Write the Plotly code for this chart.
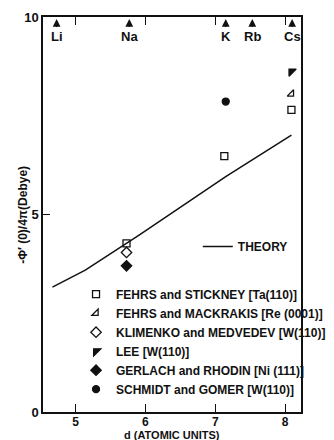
import plotly.graph_objects as go

# Theory curve
theory_d = [4.67, 5.14, 5.91, 6.29, 7.15, 8.09]
theory_v = [3.16, 3.59, 4.48, 4.94, 5.96, 7.01]

# Experimental points
stickney_d = [5.73, 7.13, 8.09]
stickney_v = [4.27, 6.48, 7.65]
mackrakis_d = [8.09]
mackrakis_v = [8.05]
klimenko_d = [5.73]
klimenko_v = [4.04]
lee_d = [8.09]
lee_v = [8.62]
gerlach_d = [5.73]
gerlach_v = [3.70]
schmidt_d = [7.15]
schmidt_v = [7.86]

# Alkali positions on top axis
elements = ["Li", "Na", "K", "Rb", "Cs"]
element_d = [4.73, 5.77, 7.15, 7.53, 8.10]

x_ticks = [5, 6, 7, 8]
y_ticks = [0, 5, 10]

FONT = "Liberation Sans"
BLACK = "#111111"

fig = go.Figure()

fig.add_trace(go.Scatter(x=theory_d, y=theory_v, mode="lines", name="THEORY",
                         line=dict(color=BLACK, width=1.5), legend="legend2"))

series = [
    ("FEHRS and STICKNEY [Ta(110)]", stickney_d, stickney_v, "square-open", 7),
    ("FEHRS and MACKRAKIS [Re (0001)]", mackrakis_d, mackrakis_v, "triangle-se-open", 7),
    ("KLIMENKO and MEDVEDEV [W(110)]", klimenko_d, klimenko_v, "diamond-open", 8),
    ("LEE [W(110)]", lee_d, lee_v, "triangle-nw", 8),
    ("GERLACH and RHODIN [Ni (111)]", gerlach_d, gerlach_v, "diamond", 8),
    ("SCHMIDT and GOMER [W(110)]", schmidt_d, schmidt_v, "circle", 7),
]
for name, xs, ys, sym, sz in series:
    fig.add_trace(go.Scatter(x=xs, y=ys, mode="markers", name=name,
                             marker=dict(symbol=sym, size=sz, color=BLACK,
                                         line=dict(color=BLACK, width=1.3)),
                             legend="legend"))

for el, d in zip(elements, element_d):
    fig.add_annotation(x=d, y=10, xref="x", yref="y", text="<b>%s</b>" % el,
                       showarrow=True, arrowhead=2, arrowsize=1.2, arrowwidth=1.3,
                       arrowcolor=BLACK, ax=0, ay=17, yshift=-2,
                       font=dict(family=FONT, size=13, color=BLACK))

fig.add_annotation(x=-0.08, y=0.5, xref="paper", yref="paper", xanchor="center",
                   yanchor="middle",
                   text="<b>-Φ′ (0)/4π(Debye)</b>", textangle=-90, showarrow=False,
                   font=dict(family=FONT, size=12, color=BLACK))
fig.add_annotation(x=0.5, y=-0.0395, xref="paper", yref="paper", yanchor="top",
                   xanchor="center", borderpad=0,
                   text="<b>d (ATOMIC UNITS)</b>", showarrow=False,
                   font=dict(family=FONT, size=11, color=BLACK))

fig.update_layout(
    width=334, height=440,
    margin=dict(l=43, r=3, t=17, b=28),
    paper_bgcolor="white", plot_bgcolor="white",
    font=dict(family=FONT, color=BLACK),
    showlegend=True,
    legend=dict(x=0.128, y=0.335, xanchor="left", yanchor="top",
                bgcolor="rgba(0,0,0,0)", itemwidth=30, tracegroupgap=0,
                font=dict(family=FONT, size=12, color=BLACK, weight="bold")),
    legend2=dict(x=0.60, y=0.456, xanchor="left", yanchor="top",
                 bgcolor="rgba(0,0,0,0)", itemwidth=30,
                 font=dict(family=FONT, size=12, color=BLACK, weight="bold")),
)
fig.update_xaxes(range=[4.535, 8.227], tickvals=x_ticks, ticks="inside", ticklen=8,
                 tickwidth=1.3, tickcolor=BLACK, showline=True, linecolor=BLACK,
                 linewidth=1.5, mirror="ticks", showgrid=False, zeroline=False,
                 ticklabelstandoff=-2,
                 tickfont=dict(family=FONT, size=12, color=BLACK, weight="bold"))
fig.update_yaxes(range=[0, 10], tickvals=y_ticks, ticks="inside", ticklen=7,
                 tickwidth=1.3, tickcolor=BLACK, showline=True, linecolor=BLACK,
                 linewidth=1.5, mirror=True, showgrid=False, zeroline=False,
                 tickfont=dict(family=FONT, size=13, color=BLACK, weight="bold"))

fig.write_html("out.html")
